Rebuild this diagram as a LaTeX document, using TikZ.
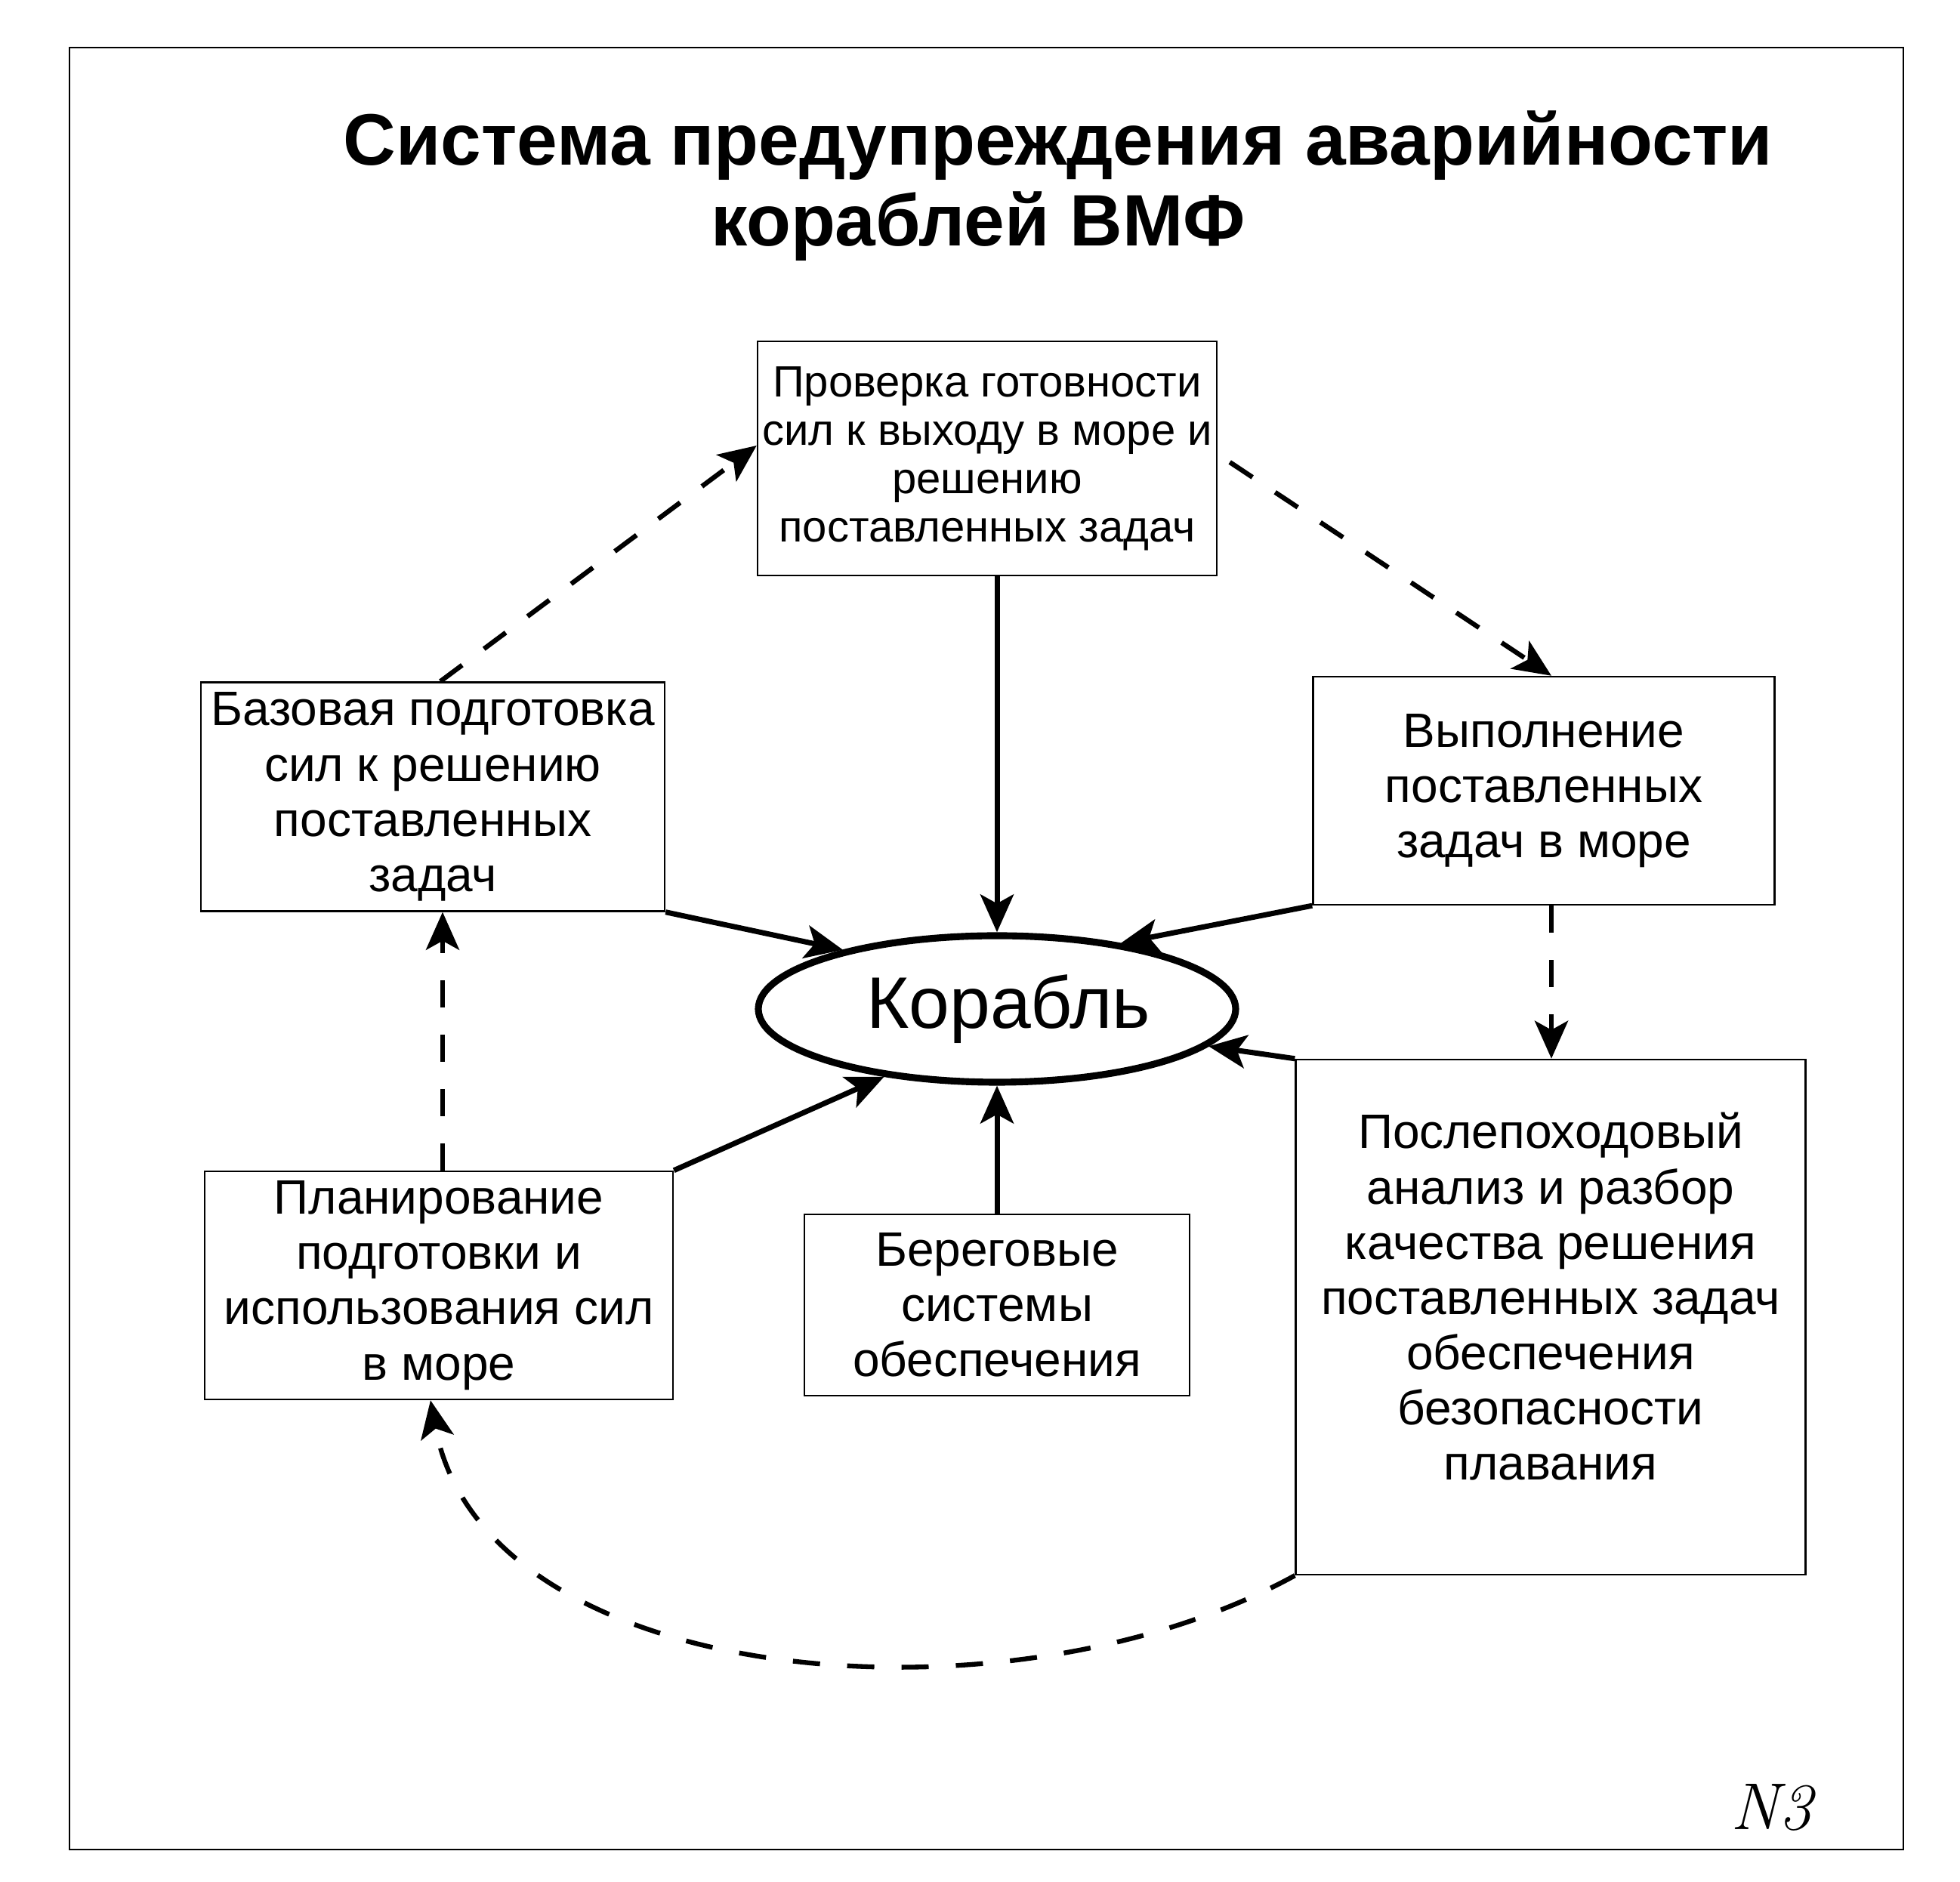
\documentclass[tikz,border=0pt]{standalone}
\usepackage{fontspec}
\newfontfamily\arialfont{Liberation Sans}
\usetikzlibrary{shapes.geometric, arrows.meta, positioning, calc}

\begin{document}
\begin{tikzpicture}[>={Stealth[length=0.5cm,width=0.44cm,inset=0.12cm]},box/.style={draw,line width=0.7pt,rectangle,inner sep=0pt,align=center,font=\arialfont\fontsize{18.2}{20.8}\selectfont},ship/.style={draw,ellipse,line width=2.6pt,inner sep=0pt,minimum width=6.32cm,minimum height=1.94cm,font=\arialfont\fontsize{27.5}{30}\selectfont},flow/.style={->,line width=2pt},dflow/.style={->,line width=1.8pt,dash pattern=on 0.36cm off 0.36cm}]
  \useasboundingbox (0,0) rectangle (25.95,24.91);
  \draw[line width=0.6pt] (0.92,0.42) rectangle (25.2,24.28);
  \node[anchor=base,font=\arialfont\bfseries\fontsize{27.45}{32}\selectfont] (title) at (14.01,22.72) {Система предупреждения аварийности};
  \node[anchor=base,font=\arialfont\bfseries\fontsize{27.45}{32}\selectfont] (subtitle) at (12.95,21.65) {кораблей ВМФ};
  \node[box,minimum width=6.08cm,minimum height=3.10cm,font=\arialfont\fontsize{16.5}{18.2}\selectfont] (chk) at (13.07,18.84) {Проверка готовности\\сил к выходу в море и\\решению\\поставленных задач};
  \node[box,minimum width=6.14cm,minimum height=3.03cm] (base) at (5.73,14.36) {Базовая подготовка\\сил к решению\\поставленных\\задач};
  \node[box,minimum width=6.11cm,minimum height=3.02cm] (exec) at (20.44,14.44) {Выполнение\\поставленных\\задач в море};
  \node[box,minimum width=6.75cm,minimum height=6.82cm,text depth=0.55cm] (post) at (20.53,7.47) {Послепоходовый\\анализ и разбор\\качества решения\\поставленных задач\\обеспечения\\безопасности\\плавания};
  \node[box,minimum width=6.2cm,minimum height=3.02cm] (plan) at (5.81,7.89) {Планирование\\подготовки и\\использования сил\\в море};
  \node[box,minimum width=5.1cm,minimum height=2.4cm] (shore) at (13.2,7.63) {Береговые\\системы\\обеспечения};
  \node[ship] (ship) at (13.2,11.55) {\hspace{0.3cm}Корабль};
  \node[font=\itshape\fontsize{25}{28}\selectfont] (num) at (23.45,0.98) {N3};
  \draw[flow] (ship.north |- chk.south) -- (ship.north);
  \draw[flow] (base.south east) -- (ship.159);
  \draw[flow] (exec.south west) -- (ship.28);
  \draw[flow] (plan.north east) -- (ship.211);
  \draw[flow] (ship.south |- shore.north) -- (ship.south);
  \draw[flow] (post.north west) -- (ship.-10);
  \draw[dflow] ([xshift=0.1cm]base.north) -- ([yshift=0.17cm]chk.west);
  \draw[dflow] ([xshift=0.16cm,yshift=-0.05cm]chk.east) -- ([xshift=0.1cm]exec.north);
  \draw[dflow] ([xshift=0.1cm]exec.south) -- ([xshift=0.1cm]exec.south |- post.north);
  \draw[dflow] ([xshift=0.05cm]plan.north) -- ([xshift=0.05cm]plan.north |- base.south);
  \draw[dflow] (post.south west) .. controls (13.33,1.95) and (6.40,2.55) .. ([xshift=-0.11cm]plan.south);
\end{tikzpicture}
\end{document}
